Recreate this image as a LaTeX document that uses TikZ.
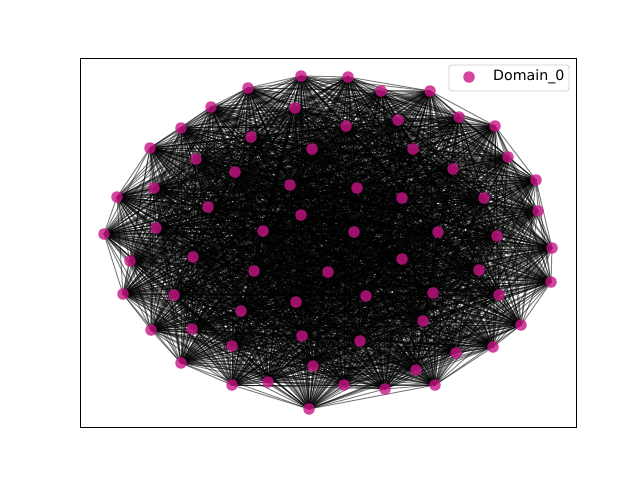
\documentclass[tikz,border=0pt]{standalone}
\usepackage{fontspec}
\setmainfont{DejaVu Sans}
\usetikzlibrary{backgrounds}

\definecolor{vcol}{RGB}{199,21,133}
\tikzset{
        vertex/.style={circle,fill=vcol,fill opacity=0.8,inner sep=0pt,minimum size=11.5pt},
        link/.style={draw=black,opacity=0.5,line width=1pt},
        legendbox/.style={draw=black!20,fill=white,fill opacity=0.8,rounded corners=2.5pt,line width=0.8pt},
    }

\begin{document}
\begin{tikzpicture}[x=1pt,y=-1pt]
    \useasboundingbox (0,0) rectangle (640,480);

    %axes frame
    \draw[line width=1pt] (80,58) rectangle (576,427);

    %vertices (outer ring, then inside)
    \foreach \px/\py [count=\i] in {301/76,348/77,381/91,430/91,459/117,495/126,508/157,536/180,538/211,552/248,
                                    551/282,521/325,493/347,456/353,435/385,416/370,385/389,344/385,309/409,268/382,
                                    232/385,181/363,151/330,123/294,130/261,104/234,117/197,150/148,181/128,211/107,
                                    248/88,295/108,346/126,398/120,413/149,453/169,484/198,497/236,499/295,479/270,
                                    433/293,423/321,360/341,366/296,402/259,438/232,402/198,357/188,290/185,301/215,
                                    354/232,328/272,296/302,302/336,313/366,241/311,232/346,192/329,174/295,193/257,
                                    254/271,263/231,208/207,156/228,154/188,196/159,235/172,251/137,312/149}
        \node[vertex] (n\i) at (\px,\py) {};

    %edges behind the vertices
    \begin{scope}[on background layer]
        \foreach \i in {1,...,68}{
            \pgfmathtruncatemacro\k{\i+1}
            \foreach \j in {\k,...,69}
                \draw[link] (n\i.center) -- (n\j.center);
        }
    \end{scope}

    %legend
    \draw[legendbox] (449,65) rectangle (569,91);
    \node[vertex] (key) at (469,77) {};
    \node[anchor=west,inner sep=0pt,font=\fontsize{14.2}{16}\selectfont] (keytext) at (493,77) {Domain\_0};

\end{tikzpicture}
\end{document}
